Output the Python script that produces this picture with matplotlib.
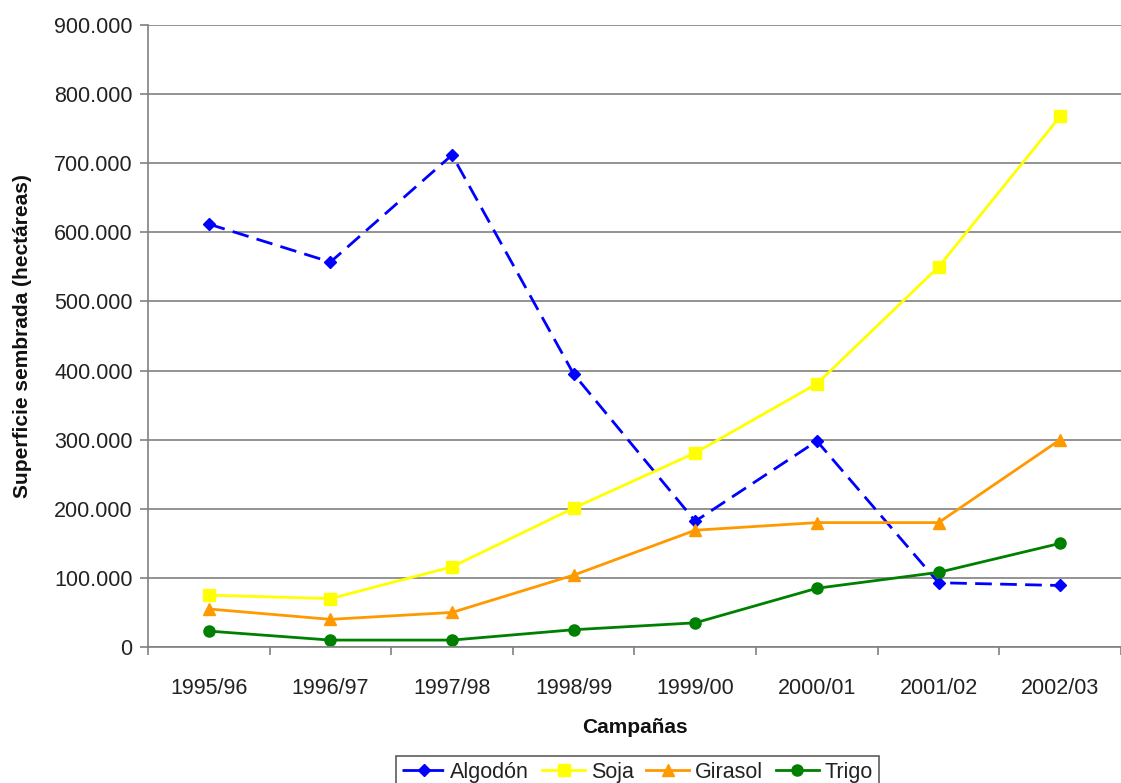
import matplotlib
matplotlib.use('Agg')
import matplotlib.pyplot as plt
from matplotlib.ticker import FuncFormatter

plt.rcParams['font.family'] = ['Liberation Sans', 'DejaVu Sans']

campanas = ['1995/96', '1996/97', '1997/98', '1998/99', '1999/00', '2000/01', '2001/02', '2002/03']
algodon = [612000, 557000, 712000, 395000, 182000, 298000, 93000, 89000]
soja = [75000, 70000, 116000, 201000, 281000, 381000, 550000, 768000]
girasol = [55000, 40000, 50000, 104000, 169000, 180000, 180000, 300000]
trigo = [23000, 10000, 10000, 25000, 35000, 85000, 108000, 150000]

fig = plt.figure(figsize=(11.21, 7.83), dpi=100)
ax = fig.add_axes([0.132, 0.1737, 0.868, 0.7943])

x = range(len(campanas))
ax.plot(x, algodon, color='#0000FF', ls=(0, (6, 3)), lw=2, marker='D', ms=6, label='Algodón')
ax.plot(x, soja, color='#FFFF00', lw=2, marker='s', ms=8, label='Soja')
ax.plot(x, girasol, color='#FF9900', lw=2, marker='^', ms=8, label='Girasol')
ax.plot(x, trigo, color='#008000', lw=2, marker='o', ms=8, label='Trigo')

ax.set_xlim(-0.5, 7.5)
ax.set_ylim(0, 900000)
ax.set_yticks(range(0, 900001, 100000))
ax.yaxis.set_major_formatter(FuncFormatter(lambda v, p: f'{int(v):,}'.replace(',', '.')))
ax.set_xticks(list(x))
ax.set_xticklabels(campanas)
ax.set_xticks([i - 0.5 for i in range(len(campanas) + 1)], minor=True)
ax.tick_params(axis='x', which='major', length=0, pad=22, labelsize=15.5, colors='#222222')
ax.tick_params(axis='x', which='minor', length=6, width=1.2, color='#808080')
ax.tick_params(axis='y', length=6, width=1.2, color='#808080', labelsize=15.5, labelcolor='#222222', pad=5)

ax.grid(axis='y', color='#808080', lw=1.2)
ax.set_axisbelow(True)
for s in ['top', 'right']:
    ax.spines[s].set_visible(False)
for s in ['left', 'bottom']:
    ax.spines[s].set_color('#808080')
    ax.spines[s].set_linewidth(1.2)

ax.set_xlabel('Campañas', fontsize=15, fontweight='bold', color='#111111', labelpad=14)
ax.set_ylabel('Superficie sembrada (hectáreas)', fontsize=15, fontweight='bold', color='#111111', labelpad=16)

leg = fig.legend(loc='lower center', bbox_to_anchor=(0.5685, -0.022), ncol=4, fontsize=15.5,
                 frameon=True, fancybox=False, edgecolor='#333333', handlelength=2.0,
                 handletextpad=0.25, columnspacing=0.6, borderpad=0.3)
leg.get_frame().set_linewidth(1.2)
for t in leg.get_texts():
    t.set_color('#222222')

fig.savefig('out.png', dpi=100)
